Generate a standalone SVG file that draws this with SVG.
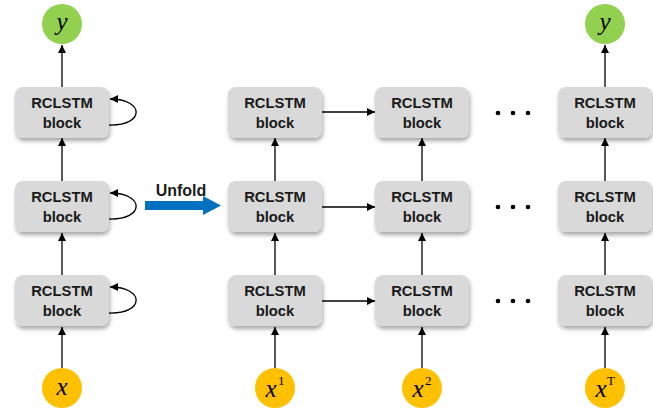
<svg xmlns="http://www.w3.org/2000/svg" width="653" height="408" viewBox="0 0 653 408">
<defs>
<marker id="ah" viewBox="0 0 10 10" refX="10" refY="5" markerWidth="8" markerHeight="8" markerUnits="userSpaceOnUse" orient="auto"><path d="M0,0 L10,5 L0,10 z" fill="#000"/></marker>
<filter id="sh" x="-10%" y="-10%" width="125%" height="135%"><feGaussianBlur in="SourceAlpha" stdDeviation="2"/><feOffset dx="1" dy="3"/><feComponentTransfer><feFuncA type="linear" slope="0.35"/></feComponentTransfer><feMerge><feMergeNode/><feMergeNode in="SourceGraphic"/></feMerge></filter>
</defs>
<style>
.blk{fill:#D9D9D9;filter:url(#sh)}
.bt{font-family:"Liberation Sans",Arial,sans-serif;font-weight:bold;font-size:14.8px;fill:#1a1a1a;text-anchor:middle}
.c{stroke:#000;stroke-width:1.3;fill:none;marker-end:url(#ah)}
.g{fill:#92D050}
.o{fill:#FFC000}
.v{font-family:"Liberation Serif","Times New Roman",serif;font-style:italic;font-size:25px;fill:#000;text-anchor:middle}
.sup{font-family:"Liberation Serif","Times New Roman",serif;font-size:13px;fill:#000}
.dot{fill:#000}
</style>
<g id="connectors">
<line class="c" x1="62" y1="368" x2="62" y2="327"/>
<line class="c" x1="62" y1="275" x2="62" y2="233"/>
<line class="c" x1="62" y1="181" x2="62" y2="138"/>
<line class="c" x1="62" y1="87" x2="62" y2="45"/>
<path class="c" d="M109,125 C145,126 145,99 110,99"/>
<path class="c" d="M109,219 C145,220 145,193 110,193"/>
<path class="c" d="M109,313 C145,314 145,287 110,287"/>
<line class="c" x1="275" y1="368" x2="275" y2="327"/>
<line class="c" x1="275" y1="275" x2="275" y2="233"/>
<line class="c" x1="275" y1="181" x2="275" y2="138"/>
<line class="c" x1="422" y1="368" x2="422" y2="327"/>
<line class="c" x1="422" y1="275" x2="422" y2="233"/>
<line class="c" x1="422" y1="181" x2="422" y2="138"/>
<line class="c" x1="605" y1="368" x2="605" y2="327"/>
<line class="c" x1="605" y1="275" x2="605" y2="233"/>
<line class="c" x1="605" y1="181" x2="605" y2="138"/>
<line class="c" x1="605" y1="87" x2="605" y2="45"/>
<line class="c" x1="322" y1="112" x2="375" y2="112"/>
<line class="c" x1="322" y1="207" x2="375" y2="207"/>
<line class="c" x1="322" y1="301" x2="375" y2="301"/>
</g>
<g id="unfold">
<path d="M145,201 L203,201 L203,196 L221,205.5 L203,215 L203,210 L145,210 z" fill="#0070C0"/>
<text x="181" y="196" class="bt" style="font-size:16px">Unfold</text>
</g>
<g id="y-left"><circle class="g" cx="62" cy="24" r="20"/><text class="v" x="62" y="30">y</text></g>
<g id="x-left"><circle class="o" cx="62" cy="388" r="20"/><text class="v" x="62" y="395">x</text></g>
<g id="L1"><rect class="blk" x="15" y="87" width="94" height="51" rx="8"/><text class="bt" x="62" y="108">RCLSTM</text><text class="bt" x="62" y="128">block</text></g>
<g id="L2"><rect class="blk" x="15" y="181" width="94" height="51" rx="8"/><text class="bt" x="62" y="202">RCLSTM</text><text class="bt" x="62" y="222">block</text></g>
<g id="L3"><rect class="blk" x="15" y="275" width="94" height="51" rx="8"/><text class="bt" x="62" y="296">RCLSTM</text><text class="bt" x="62" y="316">block</text></g>
<g id="A1"><rect class="blk" x="228" y="87" width="94" height="51" rx="8"/><text class="bt" x="275" y="108">RCLSTM</text><text class="bt" x="275" y="128">block</text></g>
<g id="A2"><rect class="blk" x="228" y="181" width="94" height="51" rx="8"/><text class="bt" x="275" y="202">RCLSTM</text><text class="bt" x="275" y="222">block</text></g>
<g id="A3"><rect class="blk" x="228" y="275" width="94" height="51" rx="8"/><text class="bt" x="275" y="296">RCLSTM</text><text class="bt" x="275" y="316">block</text></g>
<g id="B1"><rect class="blk" x="375" y="87" width="94" height="51" rx="8"/><text class="bt" x="422" y="108">RCLSTM</text><text class="bt" x="422" y="128">block</text></g>
<g id="B2"><rect class="blk" x="375" y="181" width="94" height="51" rx="8"/><text class="bt" x="422" y="202">RCLSTM</text><text class="bt" x="422" y="222">block</text></g>
<g id="B3"><rect class="blk" x="375" y="275" width="94" height="51" rx="8"/><text class="bt" x="422" y="296">RCLSTM</text><text class="bt" x="422" y="316">block</text></g>
<g id="C1"><rect class="blk" x="558" y="87" width="94" height="51" rx="8"/><text class="bt" x="605" y="108">RCLSTM</text><text class="bt" x="605" y="128">block</text></g>
<g id="C2"><rect class="blk" x="558" y="181" width="94" height="51" rx="8"/><text class="bt" x="605" y="202">RCLSTM</text><text class="bt" x="605" y="222">block</text></g>
<g id="C3"><rect class="blk" x="558" y="275" width="94" height="51" rx="8"/><text class="bt" x="605" y="296">RCLSTM</text><text class="bt" x="605" y="316">block</text></g>
<g id="dots">
<circle class="dot" cx="498" cy="113" r="2.3"/><circle class="dot" cx="513" cy="113" r="2.3"/><circle class="dot" cx="528" cy="113" r="2.3"/>
<circle class="dot" cx="498" cy="207" r="2.3"/><circle class="dot" cx="513" cy="207" r="2.3"/><circle class="dot" cx="528" cy="207" r="2.3"/>
<circle class="dot" cx="498" cy="301" r="2.3"/><circle class="dot" cx="513" cy="301" r="2.3"/><circle class="dot" cx="528" cy="301" r="2.3"/>
</g>
<g id="y-right"><circle class="g" cx="605" cy="24" r="20"/><text class="v" x="605" y="30">y</text></g>
<g id="x1"><circle class="o" cx="275" cy="388" r="20"/><text class="v" x="271" y="397">x</text><text class="sup" x="278" y="385">1</text></g>
<g id="x2"><circle class="o" cx="422" cy="388" r="20"/><text class="v" x="418" y="397">x</text><text class="sup" x="425" y="385">2</text></g>
<g id="xT"><circle class="o" cx="605" cy="388" r="20"/><text class="v" x="601" y="397">x</text><text class="sup" x="607" y="385">T</text></g>
</svg>
